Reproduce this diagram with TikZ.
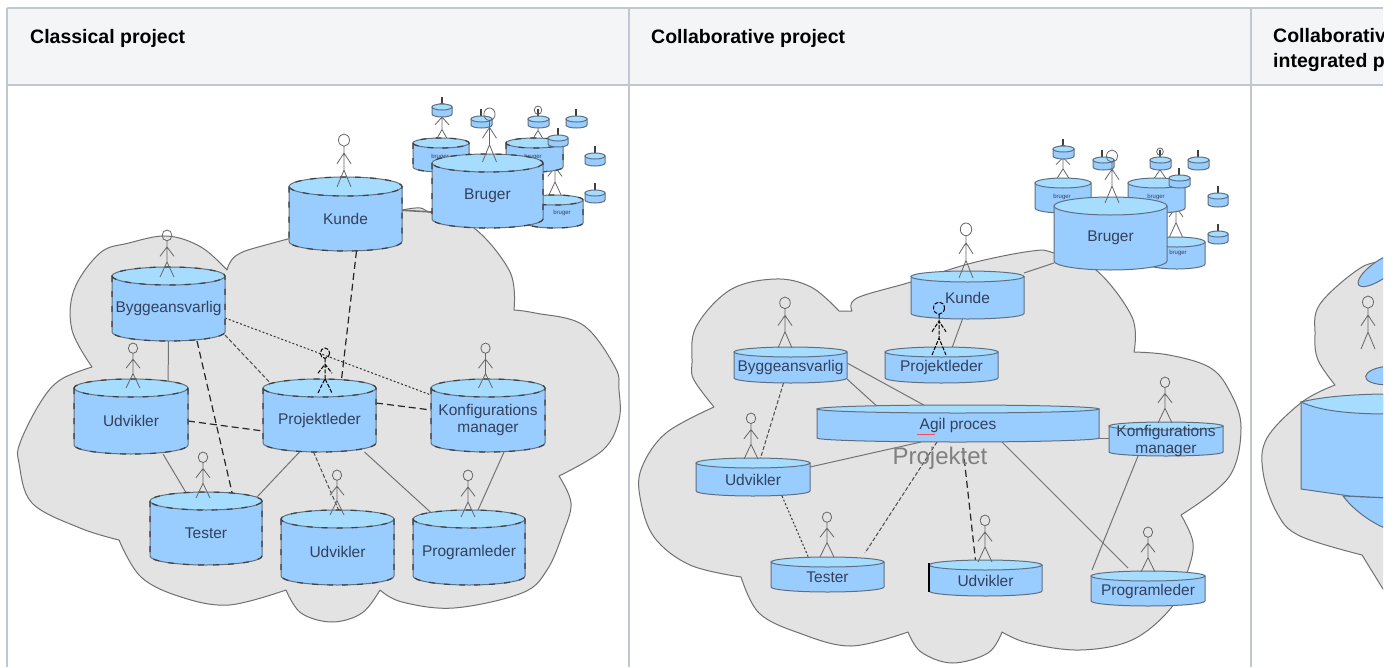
\documentclass[tikz,border=0pt]{standalone}
\usepackage{fontspec}
\setmainfont{Liberation Sans}
\pgfdeclarelayer{bg}
\pgfsetlayers{bg,main}
\definecolor{tline}{HTML}{C1C7D0}
\definecolor{thead}{HTML}{F4F5F7}
\definecolor{cbody}{HTML}{99CCFF}
\definecolor{ctop}{HTML}{A6DDFF}
\definecolor{cedge}{HTML}{5F6F80}
\definecolor{ctext}{HTML}{33415A}
\definecolor{cloudfill}{HTML}{E3E3E3}
\definecolor{cloudedge}{HTML}{707070}
\tikzset{
  x=1pt,y=-1pt,
  gridline/.style={draw=tline,line width=2pt},
  headtext/.style={anchor=base west,font=\fontsize{19.5}{25}\selectfont\bfseries,text=black,inner sep=0pt},
  cloudshape/.style={fill=cloudfill,draw=cloudedge,line width=1pt,line join=round},
  cylnode/.style={inner sep=0pt,outer sep=0pt,align=center,text=ctext,font=\fontsize{15.5}{17}\selectfont},
  cylline/.style={draw=cedge,line width=1pt},
  cyldash/.style={draw=black!75,line width=1.2pt,dash pattern=on 6pt off 9pt},
  solidconn/.style={draw=black!55,line width=1pt},
  dashconn/.style={draw=black!85,line width=1.2pt,dash pattern=on 7pt off 4pt},
  dotconn/.style={draw=black!80,line width=1pt,dash pattern=on 2pt off 2pt},
  mixconn/.style={draw=black!70,line width=1pt,dash pattern=on 4pt off 2pt},
  who/.style={draw=black!60,line width=.8pt},
  whodark/.style={draw=black,line width=1pt,dash pattern=on 4pt off 1.5pt},
  tickmark/.style={draw=black!75,line width=1.4pt},
}
\newcommand{\cylpath}[5]{%
  \pgfmathsetmacro{\cxm}{(#1+#2)/2}\pgfmathsetmacro{\crx}{(#2-#1)/2}%
  \pgfmathsetmacro{\cya}{#3+#5}\pgfmathsetmacro{\cyb}{#4-#5}%
  \pgfmathsetmacro{\cka}{.5523*\crx}\pgfmathsetmacro{\ckb}{.5523*#5}%
}
\newcommand{\cylshape}[6]{%
  \cylpath{#1}{#2}{#3}{#4}{#5}%
  \path[#6,fill=cbody] (#1,\cya) -- (#1,\cyb)
    .. controls (#1,\cyb+\ckb) and (\cxm-\cka,#4) .. (\cxm,#4)
    .. controls (\cxm+\cka,#4) and (#2,\cyb+\ckb) .. (#2,\cyb)
    -- (#2,\cya) -- cycle;
  \path[#6,fill=ctop] (#1,\cya)
    .. controls (#1,\cya-\ckb) and (\cxm-\cka,#3) .. (\cxm,#3)
    .. controls (\cxm+\cka,#3) and (#2,\cya-\ckb) .. (#2,\cya)
    .. controls (#2,\cya+\ckb) and (\cxm+\cka,\cya+#5) .. (\cxm,\cya+#5)
    .. controls (\cxm-\cka,\cya+#5) and (#1,\cya+\ckb) .. (#1,\cya) -- cycle;
}
\newcommand{\cylbox}[6]{%
  \cylshape{#1}{#2}{#3}{#4}{#5}{cylline}%
  \pgfmathsetmacro{\cnw}{#2-#1}\pgfmathsetmacro{\cnh}{#4-#3-#5}%
  \pgfmathsetmacro{\cny}{(#3+#5+#4)/2}%
  \node[cylnode,minimum width=\cnw pt,minimum height=\cnh pt] (#6) at (\cxm,\cny) {};%
}
\newcommand{\cyldashbox}[6]{%
  \cylbox{#1}{#2}{#3}{#4}{#5}{#6}%
  \path[cyldash] (#1,\cya) -- (#1,\cyb)
    .. controls (#1,\cyb+\ckb) and (\cxm-\cka,#4) .. (\cxm,#4)
    .. controls (\cxm+\cka,#4) and (#2,\cyb+\ckb) .. (#2,\cyb) -- (#2,\cya)
    .. controls (#2,\cya-\ckb) and (\cxm+\cka,#3) .. (\cxm,#3)
    .. controls (\cxm-\cka,#3) and (#1,\cya-\ckb) .. (#1,\cya)
    .. controls (#1,\cya+\ckb) and (\cxm-\cka,\cya+#5) .. (\cxm,\cya+#5)
    .. controls (\cxm+\cka,\cya+#5) and (#2,\cya+\ckb) .. (#2,\cya);
}
\newcommand{\cyllabel}[2]{\node[cylnode] at (#1) {#2};}
\newcommand{\person}[4]{%
  \pgfmathsetmacro{\ph}{#3-#2}%
  \pgfmathsetmacro{\pr}{\ph*.115}%
  \pgfmathsetmacro{\pc}{#2+\pr}%
  \pgfmathsetmacro{\pn}{#2+2*\pr}%
  \pgfmathsetmacro{\pa}{#2+\ph*.36}%
  \pgfmathsetmacro{\pb}{#2+\ph*.56}%
  \pgfmathsetmacro{\ph}{#2+\ph*.68}%
  \path[#4] (#1,\pc) circle[x radius=\pr*.9,y radius=\pr];
  \path[#4] (#1,\pn) -- (#1,\ph) (#1-7,#3) -- (#1,\ph) -- (#1+7,#3)
    (#1-7,\pb) -- (#1,\pa) -- (#1+7,\pb);
}
\newcommand{\tinyhat}[2]{\path[tickmark] (#1,#2) -- (#1,#2+7);}
\begin{document}
\begin{tikzpicture}[x=1pt,y=-1pt]
\useasboundingbox (0,0) rectangle (1395,667);
\begin{pgfonlayer}{bg}
\fill[white] (0,0) rectangle (1395,667);
\fill[thead] (7,8) rectangle (1383,85);
\draw[gridline] (7,8) -- (1383,8);
\draw[gridline] (7,85) -- (1383,85);
\draw[gridline] (7,8) -- (7,667);
\draw[gridline] (629,8) -- (629,667);
\draw[gridline] (1251,8) -- (1251,667);
\end{pgfonlayer}
\node[headtext] (h1) at (30,43) {Classical project};
\node[headtext] (h2) at (651,43) {Collaborative project};
\begin{scope}
\clip (1252,9) rectangle (1383,84);
\node[headtext] (h3) at (1273,42) {Collaborative};
\node[headtext] (h3b) at (1273,67) {integrated project};
\end{scope}

%%%% PANEL 1
\begin{pgfonlayer}{bg}
\path[cloudshape]
  plot[smooth,tension=.6] coordinates {(92,367)(72,330)(74,290)(100,253)(129,243)(167,236)(201,247)(227,270)}
  -- plot[smooth,tension=.6] coordinates {(227,270)(237,255)(273,243)(402,210)(432,213)(474,228)(510,272)(514,310)}
  -- plot[smooth,tension=.6] coordinates {(514,310)(535,313)(583,325)(615,367)(619,390)(619,420)(603,450)(559,476)}
  -- plot[smooth,tension=.6] coordinates {(559,476)(571,503)(563,533)(547,570)(522,593)(454,608)(402,602)(380,590)}
  -- plot[smooth,tension=.6] coordinates {(380,590)(362,613)(332,622)(301,613)(286,590)}
  -- plot[smooth,tension=.6] coordinates {(286,590)(229,605)(181,597)(141,577)(119,540)}
  -- plot[smooth,tension=.6] coordinates {(119,540)(80,528)(32,503)(19,463)(20,443)(40,403)(60,380)(92,367)}
  -- cycle;
\end{pgfonlayer}
\tinyhat{442}{97}\tinyhat{481}{109}\tinyhat{538}{109}\tinyhat{576}{109}\tinyhat{558}{128}\tinyhat{595}{146}\tinyhat{595}{183}
\person{442}{103}{142}{who}
\person{538}{106}{142}{who}
\person{555}{150}{197}{who}
\cyldashbox{413}{469}{138}{172}{5}{ua}
\cyldashbox{506}{563}{138}{172}{5}{ub}
\cyldashbox{526}{583}{195}{228}{5}{uc}
\cylbox{432}{452}{104}{117}{3}{ta}
\cylbox{471}{492}{116}{128}{3}{tb}
\cylbox{528}{549}{116}{128}{3}{tc}
\cylbox{566}{587}{116}{128}{3}{td}
\cylbox{548}{568}{135}{147}{3}{te}
\cylbox{585}{605}{153}{166}{3}{tf}
\cylbox{585}{605}{190}{203}{3}{tg}
\node[cylnode,font=\fontsize{6}{7}\selectfont] at (440,157) {bruger};
\node[cylnode,font=\fontsize{6}{7}\selectfont] at (533,157) {bruger};
\node[cylnode,font=\fontsize{6}{7}\selectfont] at (562,213) {bruger};
\cyldashbox{432}{543}{154}{228}{9}{bruger}
\cyllabel{bruger.center}{Bruger}
\person{489.5}{108}{162}{who}
\cyldashbox{289}{402}{177}{251}{9.5}{kunde}
\cyllabel{kunde.center}{Kunde}
\person{344}{134}{187}{who}
\cyldashbox{112}{225}{267}{341}{9}{bygg}
\cyllabel{bygg.center}{Byggeansvarlig}
\person{167}{230}{277}{who}
\cyldashbox{74}{188}{379}{454}{9}{udv}
\cyllabel{udv.center}{Udvikler}
\person{133}{343}{388}{who}
\cyldashbox{263}{376}{379}{452}{9}{proj}
\cyllabel{proj.center}{Projektleder}
\person{325}{348}{393}{whodark}
\cyldashbox{431}{545}{379}{452}{9}{konf}
\cyllabel{konf.center}{Konfigurations\\manager}
\person{485.5}{343}{388}{who}
\cyldashbox{150}{262}{492}{565}{9}{test}
\cyllabel{test.center}{Tester}
\person{203}{452}{498}{who}
\cyldashbox{281}{394}{510}{585}{9}{udvb}
\cyllabel{udvb.center}{Udvikler}
\person{337}{470}{515}{who}
\cyldashbox{413}{525}{510}{585}{9}{prog}
\cyllabel{prog.center}{Programleder}
\person{468}{470}{517}{who}
\begin{pgfonlayer}{bg}
\draw[solidconn,line width=1.6pt] ([yshift=8.5pt]kunde.east) -- ([yshift=-16.5pt]bruger.west);
\draw[dashconn] ([xshift=11pt]kunde.south) -- ([xshift=21pt]proj.north);
\draw[mixconn] ([yshift=6pt]bygg.south east) -- ([xshift=12pt]proj.north west);
\draw[dotconn] ([yshift=-9.5pt]bygg.east) -- ([yshift=25pt]konf.west);
\draw[solidconn] (bygg.south) -- ([xshift=37pt]udv.north);
\draw[dashconn] ([xshift=28.5pt]bygg.south) -- ([xshift=28pt]test.north);
\draw[dashconn] (udv.east) -- ([yshift=-11pt]proj.west);
\draw[dashconn] ([yshift=17pt]proj.east) -- ([yshift=10pt]konf.west);
\draw[solidconn] ([xshift=32pt]udv.south) -- ([xshift=-15pt]test.north);
\draw[solidconn] ([xshift=-20pt]proj.south) -- ([xshift=-5pt,yshift=4pt]test.north east);
\draw[mixconn] ([xshift=-6pt]proj.south) -- ([xshift=5pt]udvb.north);
\draw[solidconn] ([xshift=45pt]proj.south) -- ([xshift=-31pt]prog.north);
\draw[solidconn] ([xshift=16pt]konf.south) -- ([xshift=5pt]prog.north);
\end{pgfonlayer}

%%%% PANEL 2
\begin{pgfonlayer}{bg}
\path[cloudshape]
  plot[smooth,tension=.6] coordinates {(714,407)(694,380)(692,363)(696,327)(730,290)(775,279)(811,287)(839,311)}
  -- plot[smooth,tension=.6] coordinates {(852,311)(857,298)(911,282)(972,263)(1032,251)(1054,253)(1096,270)(1132,317)(1134,352)}
  -- plot[smooth,tension=.6] coordinates {(1134,352)(1169,355)(1209,367)(1229,390)(1241,427)(1229,477)(1181,515)}
  -- plot[smooth,tension=.6] coordinates {(1181,515)(1193,543)(1187,573)(1171,608)(1132,640)(1080,650)(1028,643)(1002,632)}
  -- plot[smooth,tension=.6] coordinates {(1002,632)(988,653)(952,663)(921,652)(908,632)}
  -- plot[smooth,tension=.6] coordinates {(908,632)(851,646)(799,633)(759,613)(741,577)}
  -- plot[smooth,tension=.6] coordinates {(741,577)(690,565)(654,537)(640,497)(642,467)(666,433)(714,407)}
  -- cycle;
\end{pgfonlayer}
\tinyhat{1063}{139}\tinyhat{1102}{150}\tinyhat{1160}{150}\tinyhat{1198}{150}\tinyhat{1179}{168}\tinyhat{1218}{186}\tinyhat{1218}{224}
\person{1063}{145}{180}{who}
\person{1160}{148}{180}{who}
\person{1176}{190}{238}{who}
\cylbox{1035}{1091}{178}{213}{5}{vua}
\cylbox{1128}{1185}{178}{213}{5}{vub}
\cylbox{1148}{1205}{237}{269}{5}{vuc}
\cylbox{1053}{1074}{146}{159}{3}{vta}
\cylbox{1093}{1114}{157}{170}{3}{vtb}
\cylbox{1150}{1171}{157}{170}{3}{vtc}
\cylbox{1188}{1209}{157}{170}{3}{vtd}
\cylbox{1169}{1190}{175}{188}{3}{vte}
\cylbox{1208}{1228}{193}{207}{3}{vtf}
\cylbox{1208}{1228}{231}{244}{3}{vtg}
\node[cylnode,font=\fontsize{6}{7}\selectfont] at (1062,197) {bruger};
\node[cylnode,font=\fontsize{6}{7}\selectfont] at (1156,197) {bruger};
\node[cylnode,font=\fontsize{6}{7}\selectfont] at (1178,253) {bruger};
\cylbox{1054}{1167}{197}{270}{9}{vbruger}
\cyllabel{vbruger.center}{Bruger}
\person{1112}{150}{203}{who}
\cylbox{911}{1024}{271}{319}{5.5}{vkunde}
\cyllabel{vkunde.center}{Kunde}
\person{966}{223}{278}{who}
\cylbox{885}{998}{347}{383}{5}{vproj}
\cyllabel{vproj.center}{Projektleder}
\person{939}{302}{355}{whodark}
\cylbox{734}{847}{347}{383}{5}{vbygg}
\cyllabel{vbygg.center}{Byggeansvarlig}
\person{785}{297}{348}{who}
\cylbox{817}{1099}{405}{442}{4}{vagil}
\cyllabel{vagil.center}{Agil proces}
\draw[red!70,line width=.6pt] (917,434) -- (935,434);
\node[text=black!50,font=\fontsize{24}{26}\selectfont,inner sep=0pt] (projektet) at (940,458) {Projektet};
\cylbox{1109}{1223}{422}{456}{4}{vkonf}
\cyllabel{vkonf.center}{Konfigurations\\manager}
\person{1165}{377}{423}{who}
\cylbox{696}{810}{458}{496}{5}{vudv}
\cyllabel{vudv.center}{Udvikler}
\person{751}{413}{459}{who}
\cylbox{771}{884}{557}{592}{5}{vtest}
\cyllabel{vtest.center}{Tester}
\person{827}{512}{557}{who}
\cylbox{929}{1042}{560}{596}{5}{vudvb}
\cyllabel{vudvb.center}{Udvikler}
\draw[black,line width=1.2pt] (929,563) -- (929,592);
\person{985}{515}{562}{who}
\cylbox{1091}{1205}{571}{606}{5}{vprog}
\cyllabel{vprog.center}{Programleder}
\person{1148}{527}{572}{who}
\begin{pgfonlayer}{bg}
\draw[solidconn] ([yshift=24.75pt]vkunde.east) -- ([yshift=7pt]vbruger.south west);
\draw[solidconn] ([xshift=-5pt]vkunde.south) -- ([xshift=9pt]vproj.north);
\draw[solidconn] ([yshift=4pt]vbygg.south east) -- ([xshift=-78pt]vagil.north);
\draw[solidconn] ([yshift=4.5pt]vbygg.east) -- ([xshift=-27pt]vagil.north);
\draw[mixconn] ([xshift=-7pt]vbygg.south) -- ([xshift=6pt]vudv.north);
\draw[solidconn] ([yshift=12.5pt]vudv.east) -- ([xshift=-37pt]vagil.south);
\draw[dotconn] ([xshift=29pt]vudv.south) -- ([xshift=-17pt]vtest.north);
\draw[mixconn] ([xshift=-21pt]vagil.south) -- ([xshift=37.5pt,yshift=9pt]vtest.north);
\draw[dashconn] ([xshift=5pt,yshift=-6pt]vagil.south) -- ([xshift=-9.5pt]vudvb.north);
\draw[solidconn] ([yshift=-12.5pt]vagil.east) -- ([yshift=3pt]vkonf.west);
\draw[solidconn] ([xshift=44pt]vagil.south) -- ([xshift=-20pt,yshift=8pt]vprog.north);
\draw[solidconn] ([xshift=-28pt]vkonf.south) -- ([xshift=1pt,yshift=6pt]vprog.north west);
\end{pgfonlayer}

%%%% PANEL 3 (cut off)
\begin{scope}
\clip (1252,87) rectangle (1383,667);
\path[cloudshape]
  plot[smooth,tension=.6] coordinates {(1335,385)(1318,360)(1315,335)(1320,304)(1362,267)(1390,262)}
  -- (1400,262) -- (1400,600) -- (1383,589) -- (1362,555)
  -- plot[smooth,tension=.6] coordinates {(1362,555)(1300,536)(1277,513)(1263,472)(1267,438)(1302,402)(1335,385)}
  -- cycle;
\path[cylline,fill=cbody,rotate around={35:(1380,270)}] (1380,270) circle[x radius=26,y radius=9];
\path[cylline,fill=cbody] (1390,366) .. controls (1360,368) and (1355,385) .. (1390,385) -- cycle;
\path[cylline,fill=cbody] (1343,496) .. controls (1355,512) and (1375,525) .. (1390,530) -- (1390,498) -- cycle;
\path[cylline,fill=cbody] (1301,402) -- (1301,489) -- (1350,496) -- (1390,498) -- (1390,394) -- cycle;
\path[cylline,fill=ctop] (1301,402) .. controls (1325,396) and (1360,394) .. (1390,394) -- (1390,414) .. controls (1350,414) and (1320,411) .. (1301,402) -- cycle;
\person{1368}{296}{349}{who}
\end{scope}
\end{tikzpicture}
\end{document}
